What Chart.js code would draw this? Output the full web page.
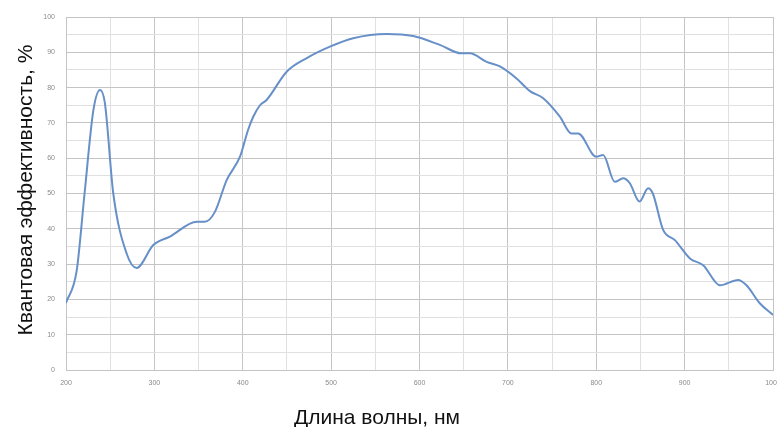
<!DOCTYPE html>
<html>
<head>
<meta charset="utf-8">
<script src="https://cdn.jsdelivr.net/npm/chart.js@4"></script>
<style>
  html, body { margin: 0; padding: 0; background: #fff; }
  #wrap { width: 777px; height: 427px; }
</style>
</head>
<body>
<div id="wrap"><canvas id="qeChart" width="777" height="427"></canvas></div>
<script>
// Wavelength, nm
const wavelengths = [200, 212, 221, 231, 238.5, 244, 253.5, 268.6, 280, 298.8, 317.6, 348, 357, 368.5,
    381.8, 397, 406, 412, 419.5, 427, 449.7, 472, 498.6, 525, 562.8, 592.9, 623, 647.6, 657, 676, 691,
    709.8, 725, 740, 758.8, 772, 779.5, 800, 807.8, 821, 830.5, 838, 849, 858.7, 864, 875.7, 889, 906,
    921, 940, 960.5, 970, 985, 1000];
// Quantum efficiency, %
const efficiency = [19, 28, 50, 73.6, 79.3, 75.6, 50, 33, 28.9, 35.4, 37.8, 42, 42, 44.8,
    53.8, 60.5, 68, 71.8, 75, 76.5, 84.5, 88.3, 91.6, 94, 95.2, 94.6, 92.1, 89.7, 89.7, 87.3, 86,
    82.6, 79, 77, 71.8, 67, 67, 60.4, 60.9, 53.3, 54.3, 52.9, 47.7, 51.5, 50, 39.7, 36.8, 31.6,
    29.7, 24, 25.5, 24, 18.9, 15.6];

const xTitle = 'Длина волны, нм';
const yTitle = 'Квантовая эффективность, %';

// axis titles sit off-centre in the original, so draw them by hand
const axisTitles = {
    id: 'axisTitles',
    afterDraw(chart) {
        const ctx = chart.ctx;
        ctx.save();
        ctx.fillStyle = '#111';
        ctx.font = '21px "Liberation Sans", Arial, sans-serif';
        ctx.textAlign = 'center';
        ctx.textBaseline = 'alphabetic';
        ctx.fillText(xTitle, 377, 424);
        ctx.translate(32, 190);
        ctx.rotate(-Math.PI / 2);
        ctx.fillText(yTitle, 0, 0);
        ctx.restore();
    }
};

const ctx = document.getElementById('qeChart').getContext('2d');
const qeChart = new Chart(ctx, {
    type: 'line',
    data: {
        datasets: [{
            data: wavelengths.map((w, i) => ({ x: w, y: efficiency[i] })),
            borderColor: '#6790c8',
            borderWidth: 2,
            pointRadius: 0,
            cubicInterpolationMode: 'monotone',
            fill: false
        }]
    },
    options: {
        responsive: false,
        animation: false,
        layout: { padding: { top: 17, right: 4, left: 0, bottom: 0 } },
        plugins: {
            legend: { display: false },
            tooltip: { enabled: false }
        },
        scales: {
            x: {
                type: 'linear',
                min: 200,
                max: 1000,
                afterFit: function(scale) {
                    scale.height = 57;
                    scale.paddingLeft = 0;
                    scale.paddingRight = 0;
                },
                border: { display: true, color: '#c4c4c4' },
                grid: {
                    color: function(c) {
                        return c.tick && c.tick.value % 100 === 0 ? '#c4c4c4' : '#e0e0e0';
                    },
                    drawTicks: false
                },
                ticks: {
                    stepSize: 50,
                    padding: 9,
                    maxRotation: 0,
                    autoSkip: false,
                    color: '#8a8a8a',
                    font: { family: 'Liberation Sans', size: 7 },
                    callback: function(value) {
                        return value % 100 === 0 ? value : '';
                    }
                }
            },
            y: {
                min: 0,
                max: 100,
                afterFit: function(scale) { scale.width = 66; },
                border: { display: true, color: '#c4c4c4' },
                grid: {
                    color: function(c) {
                        return c.tick && c.tick.value % 10 === 0 ? '#c4c4c4' : '#e0e0e0';
                    },
                    drawTicks: false
                },
                ticks: {
                    stepSize: 5,
                    padding: 11,
                    autoSkip: false,
                    color: '#8a8a8a',
                    font: { family: 'Liberation Sans', size: 7 },
                    callback: function(value) {
                        return value % 10 === 0 ? value : '';
                    }
                }
            }
        }
    },
    plugins: [axisTitles]
});
</script>
</body>
</html>
